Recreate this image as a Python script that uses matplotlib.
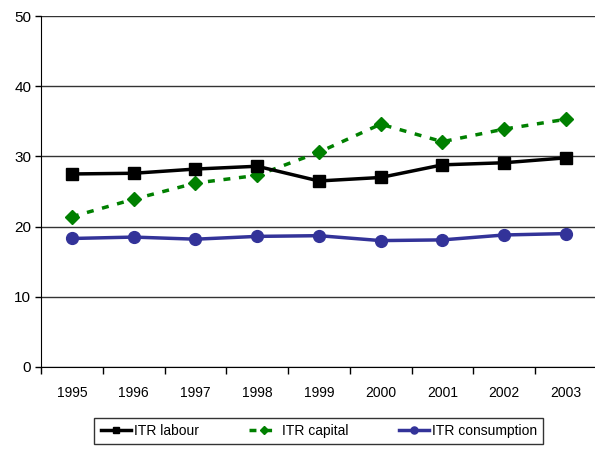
import matplotlib
matplotlib.use("Agg")
import matplotlib.pyplot as plt
import numpy as np

years = ['1995', '1996', '1997', '1998', '1999', '2000', '2001', '2002', '2003']
itr_labour = [27.5, 27.6, 28.2, 28.6, 26.5, 27.0, 28.8, 29.1, 29.8]
itr_capital = [21.4, 23.9, 26.2, 27.3, 30.6, 34.6, 32.1, 33.9, 35.3]
itr_consumption = [18.3, 18.5, 18.2, 18.6, 18.7, 18.0, 18.1, 18.8, 19.0]

plt.rcParams['font.family'] = ['Liberation Sans Narrow', 'Liberation Sans', 'DejaVu Sans']

fig = plt.figure(figsize=(5.95, 4.49), dpi=100)
ax = fig.add_axes([0.069, 0.183, 0.934, 0.781])

x = np.arange(len(years))
ax.plot(x, itr_labour, color='black', lw=2.5, marker='s', ms=8, label='ITR labour', zorder=4)
ax.plot(x, itr_capital, color='#008000', lw=2.5, ls=(0, (2, 2.5)), marker='D', ms=7,
        label='ITR capital', zorder=3)
ax.plot(x, itr_consumption, color='#333399', lw=2.5, marker='o', ms=8.5,
        label='ITR consumption', zorder=3)

ax.set_xlim(-0.5, len(years) - 0.5)
ax.set_ylim(0, 50)
ax.set_yticks(range(0, 51, 10))
ax.set_xticks(x)
ax.set_xticklabels(years)
ax.set_xticks(np.arange(-0.5, len(years), 1), minor=True)
ax.tick_params(axis='x', which='major', length=0, pad=14, labelsize=10)
ax.tick_params(axis='x', which='minor', length=5, width=1, color='black')
ax.tick_params(axis='y', length=4, width=1, labelsize=11, pad=3)

ax.yaxis.grid(True, color='#333333', lw=1)
ax.set_axisbelow(True)
for s in ['top', 'right']:
    ax.spines[s].set_visible(False)
ax.spines['left'].set_color('black')
ax.spines['bottom'].set_color('black')

leg = ax.legend(loc='upper center', bbox_to_anchor=(0.5, -0.125), ncol=3, frameon=True,
                fancybox=False, edgecolor='black', fontsize=10, handlelength=2.2,
                handletextpad=0.2, columnspacing=3.6, borderpad=0.45, markerscale=0.6)
leg.get_frame().set_linewidth(1)

fig.savefig('out.png', dpi=100)
